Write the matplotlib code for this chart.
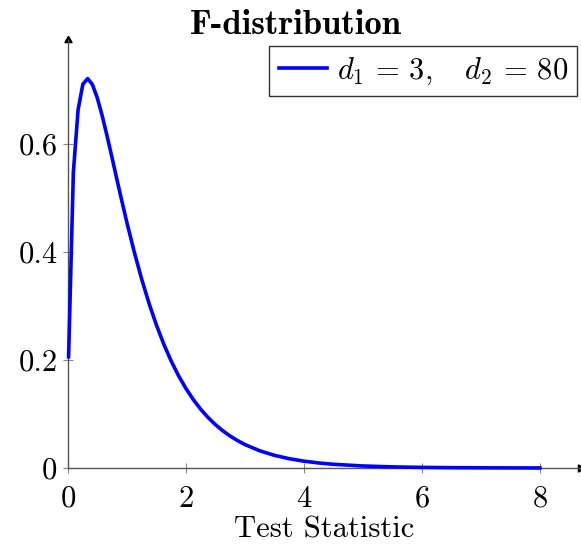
import matplotlib
matplotlib.use("Agg")
import matplotlib.pyplot as plt

x_vals = [0.01, 0.0907, 0.1714, 0.2521, 0.3328, 0.4135, 0.4942, 0.5749, 0.6556,
          0.7363, 0.8170, 0.9, 1.0, 1.125, 1.25, 1.375, 1.5, 1.625, 1.75, 1.875,
          2.0, 2.125, 2.25, 2.375, 2.5, 2.625, 2.75, 2.875, 3.0, 3.25, 3.5, 3.75,
          4.0, 4.25, 4.5, 5.0, 5.5, 6.0, 6.5, 7.0, 7.5, 8.0]
y_vals = [0.2060, 0.5474, 0.6641, 0.7110, 0.7215, 0.7106, 0.6865, 0.6547, 0.6184,
          0.5799, 0.5406, 0.5007, 0.4541, 0.3995, 0.3496, 0.3046, 0.2645, 0.2291,
          0.1980, 0.1708, 0.1472, 0.1266, 0.1088, 0.0935, 0.0802, 0.0689, 0.0591,
          0.0507, 0.0434, 0.0319, 0.02344, 0.01723, 0.01267, 0.00932, 0.00687,
          0.00374, 0.00205, 0.00113, 0.00063, 0.00035, 0.00020, 0.00011]
x_ticks = [0, 2, 4, 6, 8]
y_ticks = [0, 0.2, 0.4, 0.6]
y_tick_labels = ["0", "0.2", "0.4", "0.6"]
title = "F-distribution"
x_label = "Test Statistic"
legend_label = r"$d_1 \,=\, 3,\quad d_2 \,=\, 80$"

plt.rcParams['font.family'] = ['cmr10']
plt.rcParams['mathtext.fontset'] = 'cm'
plt.rcParams['axes.formatter.use_mathtext'] = True

W, H = 581, 545
fig = plt.figure(figsize=(W / 100, H / 100), dpi=100)
L, R, B, T = 68, 580, 468, 40
ax = fig.add_axes([L / W, (H - B) / H, (R - L) / W, (B - T) / H])
ax.set_xlim(0, 8.68)
ax.set_ylim(0, 0.793)

ax.plot(x_vals, y_vals, color='#0000ff', lw=2.6, clip_on=False, zorder=3)

for s in ['top', 'right']:
    ax.spines[s].set_visible(False)
for s in ['left', 'bottom']:
    ax.spines[s].set_color('#555555')
    ax.spines[s].set_linewidth(1.0)

# arrow heads
ax.plot(1, 0, marker=(3, 0, -90), ms=6, color='black', transform=ax.transAxes, clip_on=False)
ax.plot(0, 1, marker=(3, 0, 0), ms=6, color='black', transform=ax.transAxes, clip_on=False)

ax.set_xticks(x_ticks)
ax.set_xticklabels([str(t) for t in x_ticks])
ax.set_yticks(y_ticks)
ax.set_yticklabels(y_tick_labels)
ax.tick_params(direction='inout', length=7, width=0.8, color='#888888',
               labelsize=22, pad=4)
ax.tick_params(axis='x', pad=9)

ax.set_xlabel(x_label, fontsize=22, labelpad=2)
fig.text(296 / W, 1 - 26 / H, title, fontsize=25, fontweight='bold',
         family='cmb10', ha='center', va='center')

leg = ax.legend([ax.lines[0]], [legend_label], loc='upper right',
                bbox_to_anchor=((577 - L) / (R - L), 1 - (46 - T) / (B - T)),
                fontsize=22, frameon=True, fancybox=False, handlelength=1.6,
                handletextpad=0.3, borderpad=0.3, borderaxespad=0)
leg.get_frame().set_edgecolor('black')
leg.get_frame().set_linewidth(1.0)

fig.savefig('out.png', dpi=100)
